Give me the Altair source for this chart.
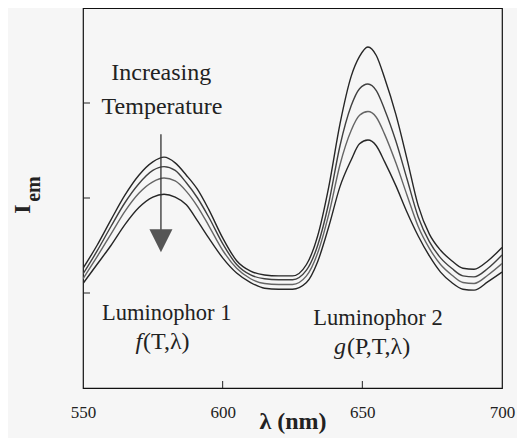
import altair as alt
import pandas as pd

# ---- data ----
wavelength = [550, 555, 560, 565, 570, 575, 579, 583, 587, 591, 595, 600, 605, 610,
              615, 620, 625, 630, 634, 638, 642, 646, 649, 652, 655, 658, 662, 666,
              670, 674, 678, 682, 686, 690, 695, 700]
curve1 = [1.26, 1.50, 1.77, 2.03, 2.24, 2.38, 2.43, 2.37, 2.24, 2.09, 1.88, 1.58, 1.34, 1.23,
          1.19, 1.18, 1.18, 1.30, 1.60, 2.12, 2.78, 3.28, 3.49, 3.59, 3.50, 3.26, 2.88, 2.41,
          1.92, 1.62, 1.45, 1.34, 1.26, 1.25, 1.34, 1.48]
curve2 = [1.20, 1.44, 1.70, 1.95, 2.15, 2.29, 2.33, 2.29, 2.16, 2.00, 1.80, 1.52, 1.30, 1.19,
          1.15, 1.14, 1.14, 1.24, 1.50, 1.95, 2.55, 2.97, 3.15, 3.20, 3.13, 2.93, 2.60, 2.20,
          1.80, 1.54, 1.37, 1.26, 1.18, 1.17, 1.26, 1.40]
curve3 = [1.15, 1.38, 1.62, 1.86, 2.05, 2.17, 2.21, 2.18, 2.07, 1.91, 1.71, 1.45, 1.26, 1.15,
          1.10, 1.09, 1.09, 1.18, 1.42, 1.83, 2.35, 2.71, 2.87, 2.91, 2.85, 2.67, 2.37, 2.03,
          1.70, 1.47, 1.30, 1.19, 1.11, 1.10, 1.19, 1.31]
curve4 = [1.10, 1.30, 1.50, 1.72, 1.90, 2.01, 2.04, 2.01, 1.93, 1.76, 1.58, 1.37, 1.21, 1.11,
          1.05, 1.04, 1.04, 1.11, 1.33, 1.70, 2.12, 2.40, 2.57, 2.61, 2.55, 2.38, 2.13, 1.85,
          1.60, 1.39, 1.22, 1.11, 1.04, 1.03, 1.12, 1.22]
series_names = ["c1", "c2", "c3", "c4"]
series_colors = ["#262626", "#404040", "#656565", "#262626"]

x_label_values = [550, 600, 650, 700]
x_tick_values = [600, 650]
y_tick_values = [1, 2, 3]

# annotations (text, wavelength, intensity, size)
normal_texts = ["Increasing", "Temperature", "Luminophor 1", "Luminophor 2", "(T,λ)", "(P,T,λ)"]
normal_wl = [578.0, 578.3, 580.0, 655.6, 571.5, 644.5]
normal_v = [3.24, 2.88, 0.72, 0.66, 0.41, 0.36]
normal_align = ["center", "center", "center", "center", "left", "left"]
normal_size = [24, 24, 22.5, 22.5, 24, 24]
italic_texts = ["f", "g"]
italic_wl = [571.5, 644.5]
italic_v = [0.41, 0.36]

arrow_wl = [577.9]
arrow_top = [2.67]
arrow_bottom = [1.66]
arrowhead_v = [1.55]

# ---- tables ----
rows = []
for name, vals in zip(series_names, [curve1, curve2, curve3, curve4]):
    for w, v in zip(wavelength, vals):
        rows.append({"wl": w, "v": v, "series": name})
df = pd.DataFrame(rows)

txt_df = pd.DataFrame({"wl": normal_wl, "v": normal_v, "text": normal_texts,
                       "align": normal_align, "size": normal_size})
ital_df = pd.DataFrame({"wl": italic_wl, "v": italic_v, "text": italic_texts})
arrow_df = pd.DataFrame({"wl": arrow_wl, "v": arrow_top, "v2": arrow_bottom})
head_df = pd.DataFrame({"wl": arrow_wl, "v": arrowhead_v})
xt_df = pd.DataFrame({"wl": x_tick_values})
yt_df = pd.DataFrame({"v": y_tick_values})

W, H = 419, 380
FONT = "Liberation Serif"
xs = alt.Scale(domain=[550, 700], nice=False, zero=False)
ys = alt.Scale(domain=[0, 4], nice=False, zero=False)

x_axis = alt.Axis(values=x_label_values, ticks=False, domain=False, grid=False,
                  labelFont=FONT, labelFontSize=17, labelColor="#222", labelPadding=16,
                  labelFlush=False, title="λ (nm)", titleFont=FONT, titleFontSize=24,
                  titleFontWeight="bold", titleColor="#222", titleY=40,
                  titleBaseline="alphabetic")

lines = alt.Chart(df).mark_line(strokeWidth=1.4, interpolate="monotone", clip=True).encode(
    x=alt.X("wl:Q", scale=xs, axis=x_axis),
    y=alt.Y("v:Q", scale=ys, axis=None),
    color=alt.Color("series:N", scale=alt.Scale(domain=series_names, range=series_colors), legend=None),
)

xticks = alt.Chart(xt_df).mark_rule(color="#222", strokeWidth=1).encode(
    x=alt.X("wl:Q", scale=xs), y=alt.value(H), y2=alt.value(H - 7))
yticks = alt.Chart(yt_df).mark_rule(color="#222", strokeWidth=1).encode(
    y=alt.Y("v:Q", scale=ys), x=alt.value(0), x2=alt.value(7))

texts_c = alt.Chart(txt_df[txt_df["align"] == "center"]).mark_text(
    font=FONT, color="#222", align="center", baseline="alphabetic").encode(
    x=alt.X("wl:Q", scale=xs), y=alt.Y("v:Q", scale=ys), text="text:N",
    size=alt.Size("size:Q", scale=None, legend=None))
texts_l = alt.Chart(txt_df[txt_df["align"] == "left"]).mark_text(
    font=FONT, color="#222", align="left", baseline="alphabetic").encode(
    x=alt.X("wl:Q", scale=xs), y=alt.Y("v:Q", scale=ys), text="text:N",
    size=alt.Size("size:Q", scale=None, legend=None))
texts_i = alt.Chart(ital_df).mark_text(
    font=FONT, fontSize=24, fontStyle="italic", color="#222", align="right",
    baseline="alphabetic", dx=-1).encode(
    x=alt.X("wl:Q", scale=xs), y=alt.Y("v:Q", scale=ys), text="text:N")

arrow = alt.Chart(arrow_df).mark_rule(color="#333", strokeWidth=1.3).encode(
    x=alt.X("wl:Q", scale=xs), y=alt.Y("v:Q", scale=ys), y2="v2:Q")
head = alt.Chart(head_df).mark_point(shape="M -1 -1 L 1 -1 L 0 1 Z", size=529, filled=True,
                                     color="#555", opacity=1).encode(
    x=alt.X("wl:Q", scale=xs), y=alt.Y("v:Q", scale=ys))

ytitle_I = alt.Chart(pd.DataFrame({"t": ["I"]})).mark_text(
    font=FONT, fontSize=24, fontWeight="bold", color="#222", angle=270,
    align="center", baseline="alphabetic").encode(
    text="t:N", x=alt.value(-53), y=alt.value(201))
ytitle_em = alt.Chart(pd.DataFrame({"t": ["em"]})).mark_text(
    font=FONT, fontSize=20, fontWeight="bold", color="#222", angle=270,
    align="center", baseline="alphabetic").encode(
    text="t:N", x=alt.value(-43), y=alt.value(181))

chart = alt.layer(lines, xticks, yticks, arrow, head, texts_c, texts_l, texts_i,
                  ytitle_I, ytitle_em).properties(
    width=W, height=H,
    autosize=alt.AutoSizeParams(type="none"),
    padding={"left": 75, "top": 0, "right": 15, "bottom": 50},
    background="#f6f6f6",
).configure_view(stroke="#111", strokeWidth=1.2)

chart.save("out.html", embed_options={"renderer": "svg", "actions": False})
